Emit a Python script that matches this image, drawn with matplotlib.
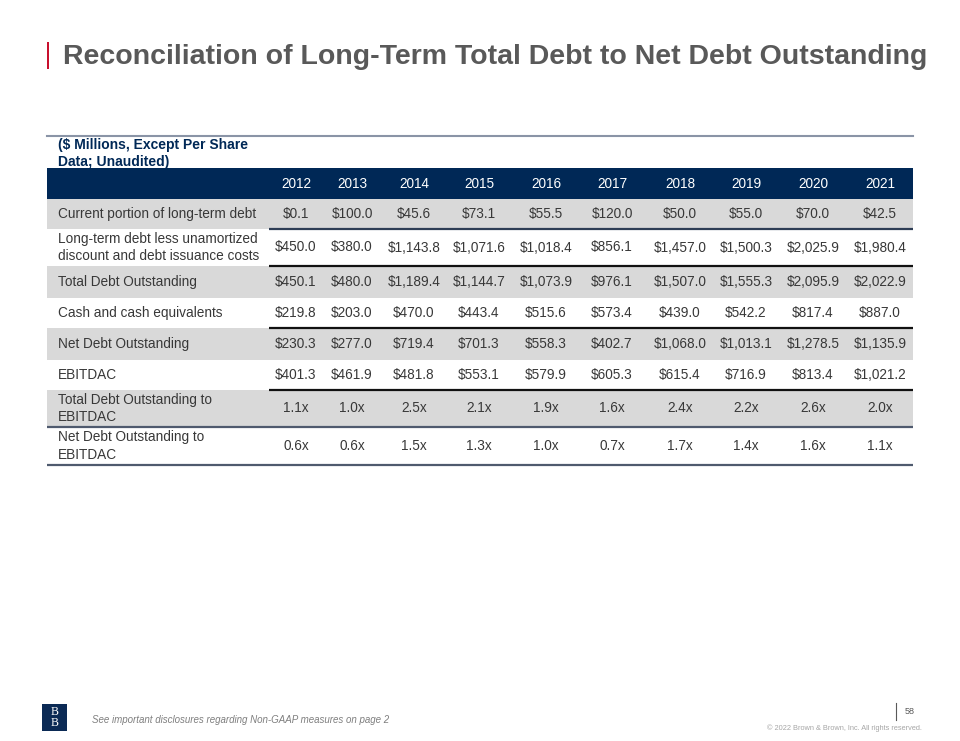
"""
plot.py
    Reconciliation of long-term total debt to net debt outstanding (table slide)
"""
import matplotlib.pyplot as plt
from matplotlib.patches import Rectangle

plt.rcParams['font.family'] = ['Liberation Sans', 'DejaVu Sans']

# ---- data ----
years = [2012, 2013, 2014, 2015, 2016, 2017, 2018, 2019, 2020, 2021]
row_labels = ['Current portion of long-term debt',
              'Long-term debt less unamortized\ndiscount and debt issuance costs',
              'Total Debt Outstanding',
              'Cash and cash equivalents',
              'Net Debt Outstanding',
              'EBITDAC',
              'Total Debt Outstanding to\nEBITDAC',
              'Net Debt Outstanding to\nEBITDAC']
current_portion = [0.1, 100.0, 45.6, 73.1, 55.5, 120.0, 50.0, 55.0, 70.0, 42.5]
long_term_debt = [450.0, 380.0, 1143.8, 1071.6, 1018.4, 856.1, 1457.0, 1500.3, 2025.9, 1980.4]
total_debt = [450.1, 480.0, 1189.4, 1144.7, 1073.9, 976.1, 1507.0, 1555.3, 2095.9, 2022.9]
cash = [219.8, 203.0, 470.0, 443.4, 515.6, 573.4, 439.0, 542.2, 817.4, 887.0]
net_debt = [230.3, 277.0, 719.4, 701.3, 558.3, 402.7, 1068.0, 1013.1, 1278.5, 1135.9]
ebitdac = [401.3, 461.9, 481.8, 553.1, 579.9, 605.3, 615.4, 716.9, 813.4, 1021.2]
total_to_ebitdac = [1.1, 1.0, 2.5, 2.1, 1.9, 1.6, 2.4, 2.2, 2.6, 2.0]
net_to_ebitdac = [0.6, 0.6, 1.5, 1.3, 1.0, 0.7, 1.7, 1.4, 1.6, 1.1]

dollar_rows = [current_portion, long_term_debt, total_debt, cash, net_debt, ebitdac]
ratio_rows = [total_to_ebitdac, net_to_ebitdac]
cells = [['${:,.1f}'.format(v) for v in r] for r in dollar_rows] + \
        [['{:.1f}x'.format(v) for v in r] for r in ratio_rows]

# ---- layout (pixels) ----
NAVY = '#002856'
GRAY_BG = '#d9d9d9'
TXT = '#383838'
FS = 9.8
left, right, num_left = 47, 913, 269
col_x = [296, 352, 414, 479, 546, 612, 680, 746, 813, 880]
row_edges = [199, 229, 266, 298, 328, 360, 390, 427, 465]
shaded = [True, False, True, False, True, False, True, False]
# (row index below which the line sits, full width?, colour)
rules = [(0, False, '#2d3d55'), (1, False, '#111111'), (3, False, '#111111'),
         (5, False, '#111111'), (6, True, '#4f5a6e'), (7, True, '#4f5a6e')]

fig = plt.figure(figsize=(9.6, 7.41), dpi=100)
ax = fig.add_axes([0, 0, 1, 1])
ax.set_xlim(0, 960)
ax.set_ylim(741, 0)
ax.axis('off')

# title
ax.add_patch(Rectangle((46.5, 42), 2.5, 27, color='#c8102e', lw=0))
ax.text(63, 57, 'Reconciliation of Long-Term Total Debt to Net Debt Outstanding',
        fontsize=20.5, fontweight='bold', color='#595959', va='center', ha='left')

# table top rule + unit caption
ax.plot([left, right], [136, 136], color='#8a94a6', lw=1.5)
ax.text(58, 153.5, '($ Millions, Except Per Share\nData; Unaudited)', fontsize=10,
        fontweight='bold', color=NAVY, va='center', ha='left', linespacing=1.25)

# header
ax.add_patch(Rectangle((left, 168), right - left, 31, color=NAVY, lw=0))
for x, y in zip(col_x, years):
    ax.text(x, 184, str(y), fontsize=FS, color='white', ha='center', va='center')

# body
for i, (label, vals) in enumerate(zip(row_labels, cells)):
    top, bot = row_edges[i], row_edges[i + 1]
    mid = (top + bot) / 2
    if shaded[i]:
        ax.add_patch(Rectangle((left, top), right - left, bot - top, color=GRAY_BG, lw=0))
    ax.text(58, mid, label, fontsize=FS, color=TXT, ha='left', va='center',
            linespacing=1.3)
    for x, v in zip(col_x, vals):
        ax.text(x, mid, v, fontsize=FS, color=TXT, ha='center', va='center')

for i, full, c in rules:
    y = row_edges[i + 1]
    ax.plot([left if full else num_left, right], [y, y], color=c, lw=1.6,
            solid_capstyle='butt')

# footer
ax.add_patch(Rectangle((42, 704), 25, 27, color='#0b2a55', lw=0))
ax.text(54.5, 717.5, 'B\nB', fontsize=8.5, family='Liberation Serif', color='white',
        ha='center', va='center', linespacing=0.85)
ax.text(92, 720, 'See important disclosures regarding Non-GAAP measures on page 2',
        fontsize=7, style='italic', color='#7f7f7f', ha='left', va='center')
ax.plot([896, 896], [703, 720], color='#595959', lw=0.8)
ax.text(910, 712, '58', fontsize=6.5, color='#595959', ha='center', va='center')
ax.text(922, 728, '\u00a9 2022 Brown & Brown, Inc. All rights reserved.', fontsize=5.3,
        color='#a6a6a6', ha='right', va='center')

fig.savefig('out.png', dpi=100)
